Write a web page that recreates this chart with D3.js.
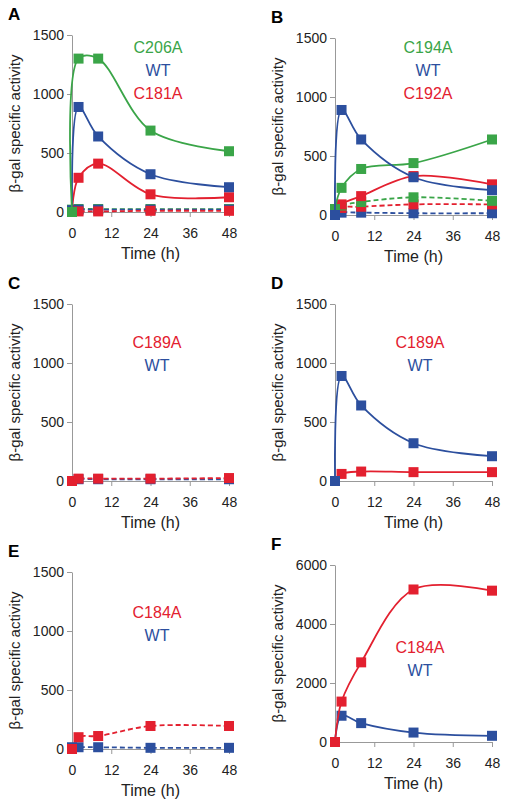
<!DOCTYPE html>
<html><head><meta charset="utf-8">
<script src="https://cdn.jsdelivr.net/npm/d3@7"></script>
<style>body{margin:0;background:#fff}text{font-family:Arial,"Liberation Sans",sans-serif}</style>
</head><body><div id="chart"></div>
<script>
// DATOS
const times = [0, 2, 8, 24, 48]
const xTicks = [0, 12, 24, 36, 48]

const wt = [0, 890, 640, 320, 210]
const aC206A = [0, 1300, 1300, 690, 515]
const aC181A = [0, 290, 410, 150, 125]
const aC206Ad = [20, 25, 25, 25, 25]
const aWTd = [15, 20, 20, 20, 20]
const aC181Ad = [0, 5, 5, 10, 10]

const bC194A = [50, 230, 390, 440, 640]
const bC192A = [0, 90, 160, 330, 260]
const bC194Ad = [50, 80, 110, 150, 120]
const bC192Ad = [0, 60, 70, 90, 90]
const bWTd = [0, 20, 20, 15, 15]

const cC189Ad = [0, 20, 20, 20, 25]
const cWTd = [0, 15, 15, 15, 15]

const dC189A = [0, 60, 80, 75, 75]

const eC184Ad = [0, 100, 110, 195, 195]
const eWTd = [15, 15, 15, 10, 10]

const fC184A = [0, 1370, 2700, 5170, 5130]

const GREEN = "#3aa548", BLUE = "#2c4f9e", RED = "#e3202f"

const panels = [
  {letter: "A", x: 72, y: 35, max: 1500, ticks: [0, 500, 1000, 1500],
   series: [[aC206Ad, GREEN, true], [aWTd, BLUE, true], [aC181Ad, RED, true], [aC181A, RED], [wt, BLUE], [aC206A, GREEN]],
   labels: [["C206A", GREEN], ["WT", BLUE], ["C181A", RED]], lx: 158, ly: 53},
  {letter: "B", x: 335, y: 38, max: 1500, ticks: [0, 500, 1000, 1500],
   series: [[bWTd, BLUE, true], [bC192Ad, RED, true], [bC194Ad, GREEN, true], [bC192A, RED], [bC194A, GREEN], [wt, BLUE]],
   labels: [["C194A", GREEN], ["WT", BLUE], ["C192A", RED]], lx: 428, ly: 53},
  {letter: "C", x: 72, y: 304, max: 1500, ticks: [0, 500, 1000, 1500],
   series: [[cWTd, BLUE, true], [cC189Ad, RED, true]],
   labels: [["C189A", RED], ["WT", BLUE]], lx: 157, ly: 348},
  {letter: "D", x: 335, y: 304, max: 1500, ticks: [0, 500, 1000, 1500],
   series: [[dC189A, RED], [wt, BLUE]],
   labels: [["C189A", RED], ["WT", BLUE]], lx: 420, ly: 348},
  {letter: "E", x: 72, y: 572, max: 1500, ticks: [0, 500, 1000, 1500],
   series: [[eWTd, BLUE, true], [eC184Ad, RED, true]],
   labels: [["C184A", RED], ["WT", BLUE]], lx: 157, ly: 618},
  {letter: "F", x: 335, y: 565, max: 6000, ticks: [0, 2000, 4000, 6000],
   series: [[wt, BLUE], [fC184A, RED]],
   labels: [["C184A", RED], ["WT", BLUE]], lx: 420, ly: 653}
]

const W = 157, H = 177

const svg = d3.select("#chart").append("svg").attr("width", 506).attr("height", 800)

panels.forEach(p => {
  const g = svg.append("g").attr("transform", `translate(${p.x}, ${p.y})`)
  const x = d3.scaleLinear().domain([0, 48]).range([0, W])
  const y = d3.scaleLinear().domain([0, p.max]).range([H, 0])

  svg.append("text").attr("x", p.x - 64).attr("y", p.y - 15).text(p.letter)
    .attr("font-weight", "bold").attr("font-size", 17)

  const xAxis = g.append("g").attr("transform", `translate(0, ${H})`)
    .call(d3.axisBottom(x).tickValues(xTicks).tickSize(5).tickSizeOuter(0))
  const yAxis = g.append("g").call(d3.axisLeft(y).tickValues(p.ticks).tickFormat(d3.format("d")).tickSize(5).tickSizeOuter(0))
  ;[xAxis, yAxis].forEach(a => {
    a.selectAll("path,line").attr("stroke", "#999")
    a.selectAll("text").attr("font-size", 14).attr("fill", "#222")
  })
  xAxis.selectAll("line").attr("y2", 5)
  xAxis.selectAll("text").attr("dy", "1.3em")
  yAxis.selectAll("line").attr("x2", 0).attr("x1", -5)

  g.append("text").attr("x", W / 2).attr("y", H + 47).attr("text-anchor", "middle")
    .attr("font-size", 16).attr("fill", "#222").text("Time (h)")
  g.append("text").attr("transform", `translate(${-52}, ${H / 2}) rotate(-90)`)
    .attr("text-anchor", "middle").attr("font-size", 15).attr("fill", "#222").text("β-gal specific activity")

  const line = d3.line().x((d, i) => x(times[i])).y(d => y(d)).curve(d3.curveCatmullRom.alpha(0.5))
  p.series.forEach(([vals, col, dashed]) => {
    g.append("path").datum(vals).attr("d", line).attr("fill", "none")
      .attr("stroke", col).attr("stroke-width", 1.8)
      .attr("stroke-dasharray", dashed ? "5,3" : null)
    g.selectAll(null).data(vals).enter().append("rect")
      .attr("x", (d, i) => x(times[i]) - 5).attr("y", d => y(d) - 5)
      .attr("width", 10).attr("height", 10).attr("fill", col)
  })

  p.labels.forEach(([t, col], i) => {
    svg.append("text").attr("x", p.lx).attr("y", p.ly + i * 23).attr("text-anchor", "middle")
      .attr("font-size", 16).attr("fill", col).text(t)
  })
})
</script></body></html>
